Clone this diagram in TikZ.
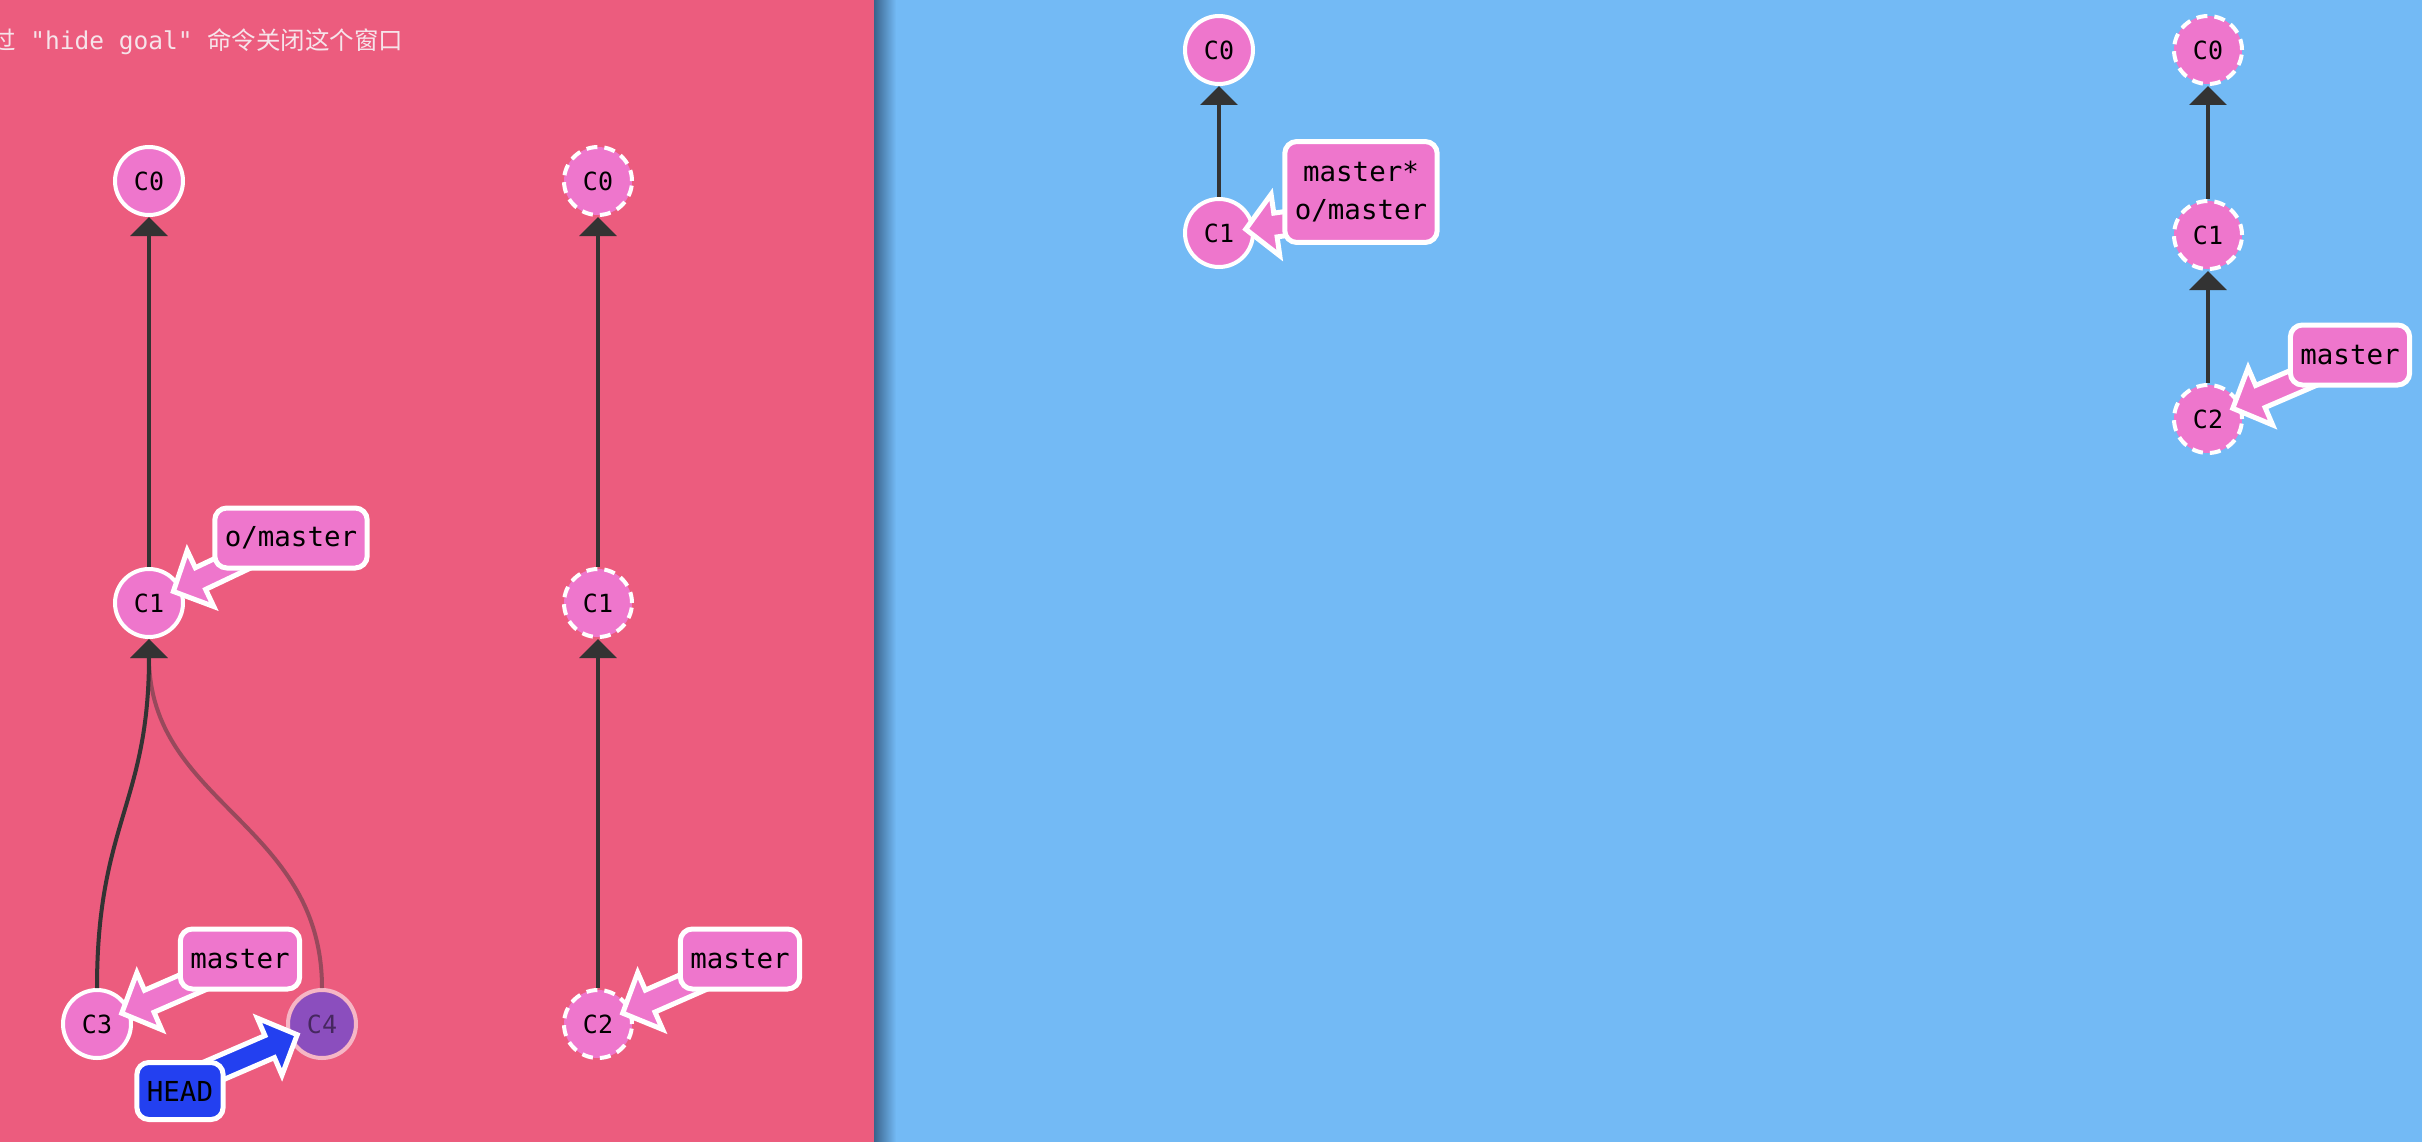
\documentclass[tikz,border=0pt]{standalone}
\usepackage{fontspec}
\setmonofont{DejaVu Sans Mono}
\newfontfamily\cjkfont{Noto Sans CJK SC}
\usetikzlibrary{arrows.meta,calc}
\definecolor{leftbg}{RGB}{236, 92, 126}
\definecolor{rightbg}{RGB}{115, 186, 245}
\definecolor{shadowdark}{RGB}{58, 100, 140}
\definecolor{commitpink}{RGB}{238, 118, 204}
\definecolor{edgegrey}{RGB}{51, 51, 51}
\definecolor{headblue}{RGB}{35, 64, 240}
\definecolor{headpurple}{RGB}{139, 78, 190}
\definecolor{goaltext}{RGB}{246, 228, 234}

\pgfdeclarelayer{bg}
\pgfdeclarelayer{front}
\pgfsetlayers{bg,main,front}

\tikzset{
    commit/.style={circle, fill=commitpink, draw=white, line width=4pt,
        minimum size=68pt, inner sep=0pt, font=\ttfamily\fontsize{25}{30}\selectfont},
    goal/.style={commit, dash pattern=on 11pt off 7pt},
    parent/.style={draw=edgegrey, line width=4pt, -{Triangle[width=37pt 0 0, length=19pt 0 0]}},
    tag/.style={rectangle, rounded corners=12pt, fill=commitpink, draw=white, line width=5pt,
        minimum height=60pt, inner xsep=10pt, align=center,
        font=\ttfamily\fontsize{27.5}{38}\selectfont}
}

% fat pointer from a tag to its commit: colour, tag, tag anchor, commit
\newcommand{\pointer}[4]{
    \coordinate (ps) at ($(#2.#3)!0.5!(#2.center)$);
    \coordinate (pt) at ($(#4)!27pt!(ps)$);
    \coordinate (ph) at ($(pt)!30pt!(ps)$);
    \filldraw[draw=white, fill=#1, line width=5pt]
        ($(ps)!12pt!90:(pt)$) -- ($(ph)!12pt!90:(pt)$) -- ($(ph)!31pt!90:(pt)$) -- (pt)
        -- ($(ph)!31pt!-90:(pt)$) -- ($(ph)!12pt!-90:(pt)$) -- ($(ps)!12pt!-90:(pt)$) -- cycle;
}

\begin{document}
\begin{tikzpicture}[x=1pt, y=-1pt]
    \useasboundingbox (0,0) rectangle (2422,1142);
    \clip (0,0) rectangle (2422,1142);

    % the two panels
    \begin{pgfonlayer}{bg}
        \fill[rightbg] (0,0) rectangle (2422,1142);
        \fill[leftbg] (0,0) rectangle (874,1142);
        \shade[left color=shadowdark, right color=rightbg] (874,0) rectangle (896,1142);
    \end{pgfonlayer}

    % hint line, cut at the left edge
    \node[anchor=base west, inner sep=0pt, text=goaltext, font=\ttfamily\fontsize{24.5}{30}\selectfont]
        (hint) at (-9,50) {{\cjkfont 过} "hide goal" {\cjkfont 命令关闭这个窗口}};

    % local repo
    \node[commit] (c0l) at (149,181) {C0};
    \node[commit] (c1l) at (149,603) {C1};
    \node[commit] (c3l) at (97,1024) {C3};
    \node[commit, fill=headpurple, draw=white!55!leftbg, text=black!50!headpurple] (c4l) at (322,1024) {C4};

    \draw[parent] (c1l) -- (c0l);
    \draw[parent, opacity=0.45] (c4l.north) .. controls +(0,-165) and +(0,165) .. (c1l.south);
    \draw[parent] (c3l.north) .. controls +(0,-165) and +(0,165) .. (c1l.south);

    % goal of the local repo
    \node[goal] (c0g) at (598,181) {C0};
    \node[goal] (c1g) at (598,603) {C1};
    \node[goal] (c2g) at (598,1024) {C2};

    \draw[parent] (c1g) -- (c0g);
    \draw[parent] (c2g) -- (c1g);

    % remote repo
    \node[commit] (c0r) at (1219,50) {C0};
    \node[commit] (c1r) at (1219,233) {C1};

    \draw[parent] (c1r) -- (c0r);

    % goal of the remote repo
    \node[goal] (c0rg) at (2208,50) {C0};
    \node[goal] (c1rg) at (2208,235) {C1};
    \node[goal] (c2rg) at (2208,419) {C2};

    \draw[parent] (c1rg) -- (c0rg);
    \draw[parent] (c2rg) -- (c1rg);

    % branch tags
    \begin{pgfonlayer}{front}
        \node[tag] (omaster) at (291,538) {o/master};
        \node[tag] (master) at (240,959) {master};
        \node[tag, fill=headblue, minimum height=57pt] (head) at (180,1091) {HEAD};
        \node[tag] (masterg) at (740,959) {master};
        \node[tag, inner ysep=20pt] (masterr) at (1361,192) {master*\\o/master};
        \node[tag] (masterrg) at (2350,355) {master};
    \end{pgfonlayer}

    \pointer{commitpink}{omaster}{south west}{c1l}
    \pointer{commitpink}{master}{south west}{c3l}
    \pointer{headblue}{head}{north east}{c4l}
    \pointer{commitpink}{masterg}{south west}{c2g}
    \pointer{commitpink}{masterr}{south west}{c1r}
    \pointer{commitpink}{masterrg}{south west}{c2rg}
\end{tikzpicture}
\end{document}
